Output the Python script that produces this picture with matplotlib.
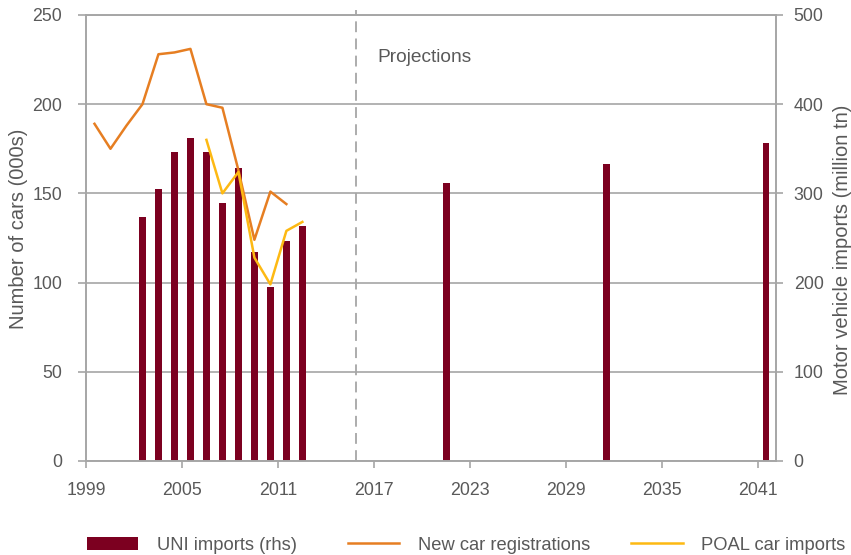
import numpy as np
import matplotlib
matplotlib.use("Agg")
import matplotlib.pyplot as plt

plt.rcParams['font.family'] = ['Liberation Sans', 'DejaVu Sans']

# data (bars on rhs, lines on lhs)
bar_years = [2002, 2003, 2004, 2005, 2006, 2007, 2008, 2009, 2010, 2011, 2012,
             2021, 2031, 2041]
uni_imports = [273, 305, 346, 362, 346, 289, 328, 234, 195, 247, 263,
               312, 333, 356]

reg_years = [1999, 2000, 2001, 2002, 2003, 2004, 2005, 2006, 2007, 2008, 2009,
             2010, 2011]
new_car_regs = [189, 175, 188, 200, 228, 229, 231, 200, 198, 163, 124, 151, 144]

poal_years = [2006, 2007, 2008, 2009, 2010, 2011, 2012]
poal_imports = [180, 150, 162, 114, 99, 129, 134]

xticks = [1999, 2005, 2011, 2017, 2023, 2029, 2035, 2041]

MAROON = '#7c0020'
ORANGE = '#e67e22'
YELLOW = '#fdb913'
GRID = '#a6a6a6'
TXT = '#595959'

fig = plt.figure(figsize=(8.51, 5.55), dpi=100)
ax1 = fig.add_axes([0.1007, 0.1694, 0.8108, 0.8036])
ax2 = ax1.twinx()

# lines above the bars
ax1.set_zorder(ax2.get_zorder() + 1)
ax1.patch.set_visible(False)

# data points sit mid-year
bx = np.array(bar_years) + 0.5
bars = ax2.bar(bx, uni_imports, width=0.42, color=MAROON, zorder=2)
ax2.set_ylim(0, 500)
ax2.set_yticks(range(0, 501, 100))
ax2.grid(axis='y', color=GRID, lw=1.2, zorder=0)
ax2.set_axisbelow(True)

l_reg, = ax1.plot(np.array(reg_years) + 0.5, new_car_regs, color=ORANGE, lw=1.8)
l_poal, = ax1.plot(np.array(poal_years) + 0.5, poal_imports, color=YELLOW, lw=1.8)
ax1.set_ylim(0, 250)
ax1.set_yticks(range(0, 251, 50))
ax1.set_xlim(1998.95, 2042.1)
ax1.set_xticks(xticks)

# projections marker
ax1.plot([2015.85, 2015.85], [0, 253], color=GRID, lw=1.3,
         ls=(0, (6, 3.5)), clip_on=False)
ax1.text(2017.2, 226, 'Projections', color=TXT, fontsize=13.8, va='center')

for ax in (ax1, ax2):
    for s in ax.spines.values():
        s.set_color(GRID)
        s.set_linewidth(1.2)
    ax.tick_params(colors=GRID, labelcolor=TXT, labelsize=12.8, width=1.2)

ax1.tick_params(axis='x', length=5, pad=10)
ax1.tick_params(axis='y', length=6, pad=11)
ax2.tick_params(axis='y', length=5, pad=8)

ax1.set_ylabel('Number of cars (000s)', color=TXT, fontsize=14.5)
ax1.yaxis.set_label_coords(-0.084, 0.52)
ax2.set_ylabel('Motor vehicle imports (million tn)', color=TXT, fontsize=14.5)
ax2.yaxis.set_label_coords(1.083, 0.473)

# legend entries spread along the bottom like the original
entries = [(bars, 'UNI imports (rhs)', 0.1022),
           (l_reg, 'New car registrations', 0.4089),
           (l_poal, 'POAL car imports', 0.742)]
for h, lab, x in entries:
    fig.legend([h], [lab], loc='center left', bbox_to_anchor=(x, 0.018),
               frameon=False, fontsize=13.2, labelcolor=TXT,
               handlelength=2.8, handletextpad=1.0,
               borderpad=0, borderaxespad=0)

fig.savefig('out.png', dpi=100)
